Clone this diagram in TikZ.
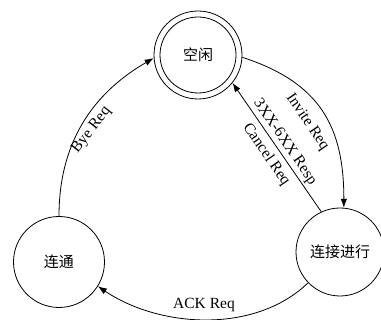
\documentclass[tikz,border=0pt]{standalone}
\usepackage{fontspec}
\setmainfont{Liberation Serif}
\newfontfamily\cjk{Noto Sans CJK SC}
\usetikzlibrary{arrows.meta}
\begin{document}
\begin{tikzpicture}[x=1pt,y=1pt, line width=0.8pt,
  state/.style={draw, circle, inner sep=0pt, font=\cjk\fontsize{15}{18}\selectfont},
  lbl/.style={font=\fontsize{15.5}{18}\selectfont, inner sep=0pt},
  arr/.style={-{Latex[length=9pt,width=6.5pt]}}]
\useasboundingbox (0,0) rectangle (381,320);
\node[state, minimum size=88pt] (idle) at (198,265) {空闲};
\draw (idle.center) circle (38pt);
\node[state, minimum size=91pt] (conn) at (59,58) {连通};
\node[state, minimum size=88pt] (proc) at (340,68) {连接进行};

\draw[arr] (conn.90) to[out=90,in=210] (idle.184);
\draw[arr] (idle.-3) to[out=-18,in=90,looseness=1.15] (proc.85);
\draw[arr] (proc.115) -- (idle.-39);
\draw[arr] (proc.224) to[out=224,in=-34,looseness=0.9] (conn.-32);

\node[lbl, rotate=52] (lbye) at (91.5,190) {Bye Req};
\node[lbl, rotate=-56] (linv) at (307.2,197.8) {Invite Req};
\node[lbl, rotate=-55.5] (lresp) at (284.8,177.8) {3XX-6XX Resp};
\node[lbl, rotate=-55.5] (lcan) at (266.2,165.4) {Cancel Req};
\node[lbl] (lack) at (204,15) {ACK Req};
\end{tikzpicture}
\end{document}
